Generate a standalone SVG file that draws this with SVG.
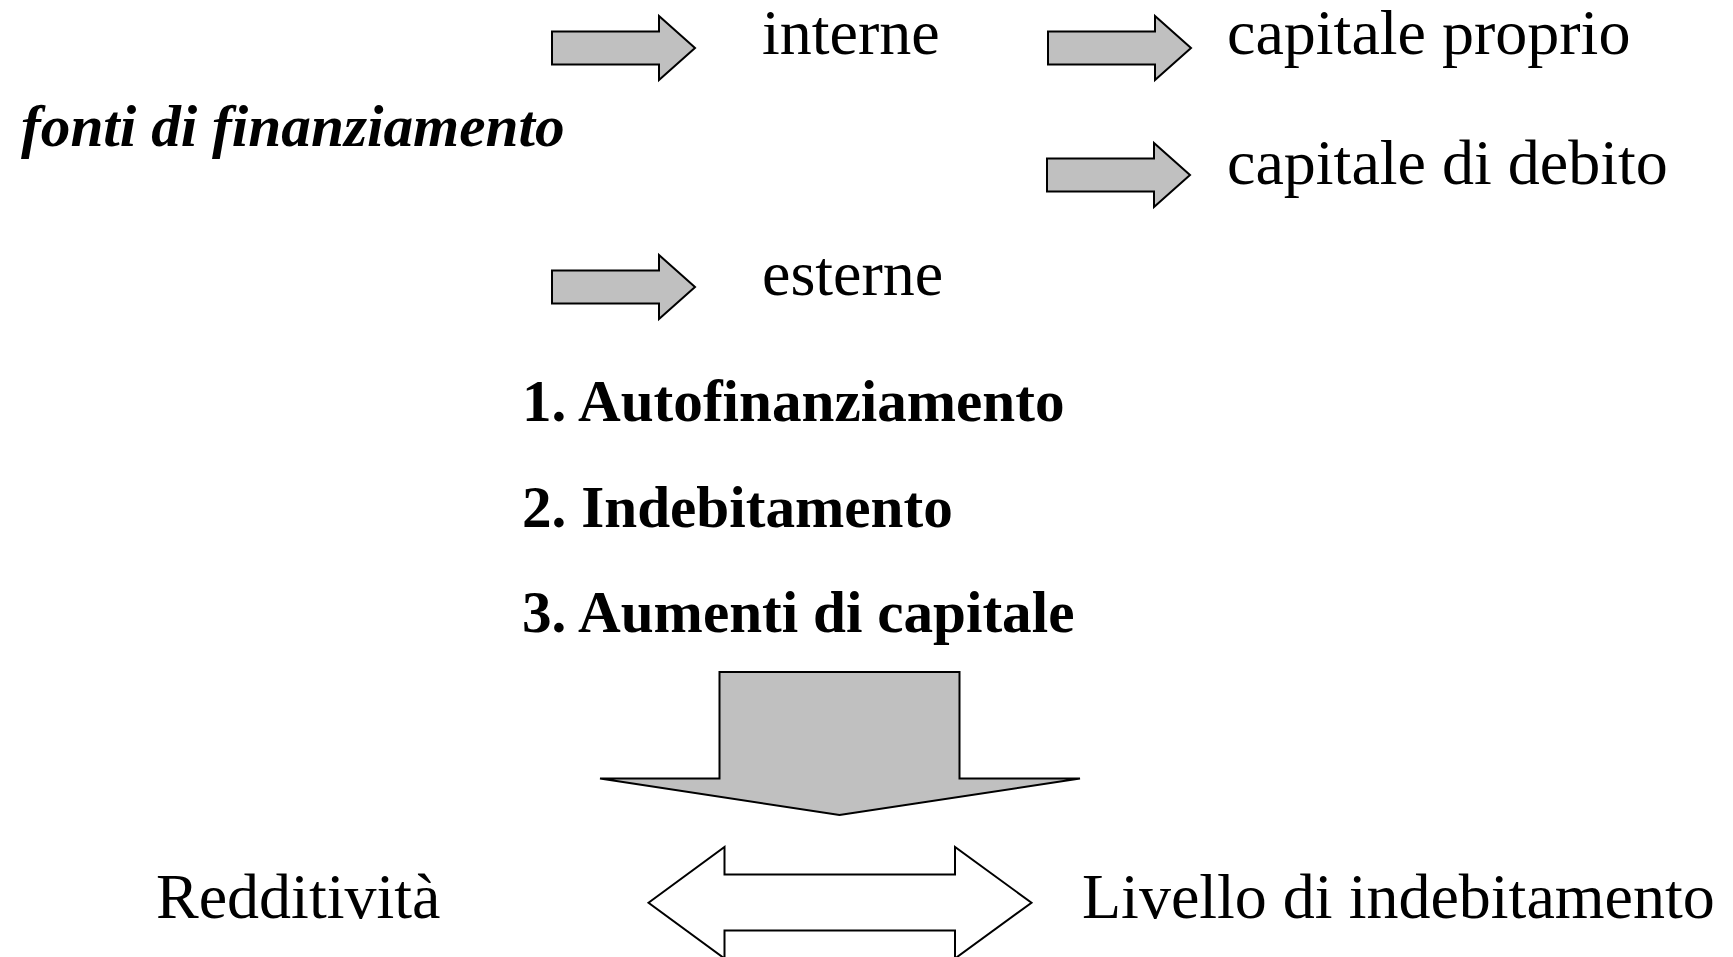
<svg xmlns="http://www.w3.org/2000/svg" width="1733" height="957" viewBox="0 0 1733 957">
<defs>
<style>
.reg{font-family:"Liberation Serif","Times New Roman",serif;font-size:64px;fill:#000}
.bold{font-family:"Liberation Serif","Times New Roman",serif;font-size:59.2px;font-weight:bold;fill:#000}
.bi{font-family:"Liberation Serif","Times New Roman",serif;font-size:59.3px;font-weight:bold;font-style:italic;fill:#000}
.garr{fill:#c0c0c0;stroke:#000;stroke-width:2;stroke-linejoin:miter}
.warr{fill:#fff;stroke:#000;stroke-width:2}
</style>
<path id="rarrow" d="M0,-16.5 H107 V-32 L143,0 L107,32 V16.5 H0 Z"/>
</defs>
<rect width="1733" height="957" fill="#fff"/>
<g id="connectors">
<use href="#rarrow" class="garr" x="552" y="48"/>
<use href="#rarrow" class="garr" x="1048" y="48"/>
<use href="#rarrow" class="garr" x="1047" y="175"/>
<use href="#rarrow" class="garr" x="552" y="287"/>
<path id="down-arrow" class="garr" d="M719.5,672 H959.5 V778.5 H1080 L839.5,815 L600,778.5 H719.5 Z"/>
<path id="double-arrow" class="warr" d="M648.5,902.7 L724.5,847 V874.5 H955 V847 L1031.5,902.7 L955,958.5 V930.5 H724.5 V958.5 Z"/>
</g>
<g id="fonti"><text class="bi" x="21" y="146">fonti di finanziamento</text></g>
<g id="interne"><text class="reg" x="762" y="54">interne</text></g>
<g id="esterne"><text class="reg" x="762" y="295">esterne</text></g>
<g id="capitale-proprio"><text class="reg" x="1227" y="54">capitale proprio</text></g>
<g id="capitale-debito"><text class="reg" x="1227" y="184">capitale di debito</text></g>
<g id="lista">
<text class="bold" x="522" y="421">1. Autofinanziamento</text>
<text class="bold" x="522" y="527">2. Indebitamento</text>
<text class="bold" x="522" y="632">3. Aumenti di capitale</text>
</g>
<g id="redditivita"><text class="reg" x="156" y="918">Redditività</text></g>
<g id="livello"><text class="reg" x="1082" y="918">Livello di indebitamento</text></g>
</svg>
